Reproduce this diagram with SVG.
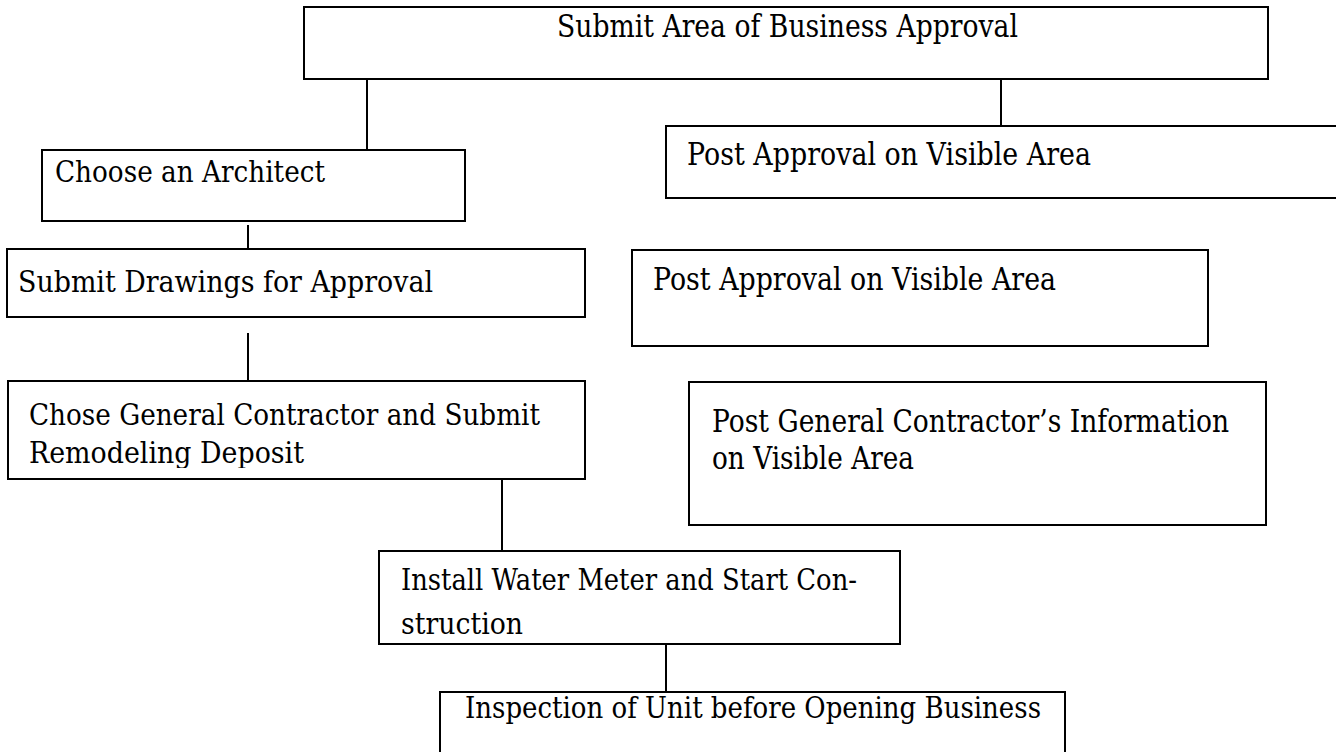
<svg xmlns="http://www.w3.org/2000/svg" width="1336" height="752" viewBox="0 0 1336 752">
<style>
.box{fill:#fff;stroke:#000;stroke-width:2}
.t{font-family:"DejaVu Serif","Liberation Serif",serif;font-size:30px;fill:#000}
.n{font-size:32px}
.c{stroke:#000;stroke-width:2;fill:none}
</style>
<defs>
<clipPath id="clipChose"><rect x="8" y="381" width="577" height="87"/></clipPath>
</defs>
<rect width="1336" height="752" fill="#fff"/>
<g id="connectors">
<line class="c" x1="367" y1="79" x2="367" y2="150"/>
<line class="c" x1="1001" y1="79" x2="1001" y2="126"/>
<line class="c" x1="248" y1="225" x2="248" y2="249"/>
<line class="c" x1="248" y1="333" x2="248" y2="381"/>
<line class="c" x1="502" y1="479" x2="502" y2="551"/>
<line class="c" x1="666" y1="644" x2="666" y2="692"/>
</g>
<g id="n-submit-area">
<rect class="box" x="304" y="7" width="964" height="72"/>
<text class="t n" x="557" y="37" textLength="461" lengthAdjust="spacingAndGlyphs">Submit Area of Business Approval</text>
</g>
<g id="n-architect">
<rect class="box" x="42" y="150" width="423" height="71"/>
<text class="t" x="55" y="182" textLength="270" lengthAdjust="spacingAndGlyphs">Choose an Architect</text>
</g>
<g id="n-post-approval-1">
<rect class="box" x="666" y="126" width="690" height="72"/>
<text class="t n" x="687" y="165" textLength="404" lengthAdjust="spacingAndGlyphs">Post Approval on Visible Area</text>
</g>
<g id="n-drawings">
<rect class="box" x="7" y="249" width="578" height="68"/>
<text class="t" x="18" y="292" textLength="415" lengthAdjust="spacingAndGlyphs">Submit Drawings for Approval</text>
</g>
<g id="n-post-approval-2">
<rect class="box" x="632" y="250" width="576" height="96"/>
<text class="t n" x="653" y="290" textLength="403" lengthAdjust="spacingAndGlyphs">Post Approval on Visible Area</text>
</g>
<g id="n-contractor">
<rect class="box" x="8" y="381" width="577" height="98"/>
<g clip-path="url(#clipChose)">
<text class="t" x="29" y="425" textLength="511" lengthAdjust="spacingAndGlyphs">Chose General Contractor and Submit</text>
<text class="t" x="29" y="463" textLength="275" lengthAdjust="spacingAndGlyphs">Remodeling Deposit</text>
</g>
</g>
<g id="n-post-contractor">
<rect class="box" x="689" y="382" width="577" height="143"/>
<text class="t n" x="712" y="432" textLength="517" lengthAdjust="spacingAndGlyphs">Post General Contractor’s Information</text>
<text class="t n" x="712" y="469" textLength="202" lengthAdjust="spacingAndGlyphs">on Visible Area</text>
</g>
<g id="n-install">
<rect class="box" x="379" y="551" width="521" height="93"/>
<text class="t" x="401" y="590" textLength="456" lengthAdjust="spacingAndGlyphs">Install Water Meter and Start Con-</text>
<text class="t" x="401" y="634" textLength="122" lengthAdjust="spacingAndGlyphs">struction</text>
</g>
<g id="n-inspection">
<rect class="box" x="440" y="692" width="625" height="80"/>
<text class="t" x="465" y="718" textLength="576" lengthAdjust="spacingAndGlyphs">Inspection of Unit before Opening Business</text>
</g>
</svg>
